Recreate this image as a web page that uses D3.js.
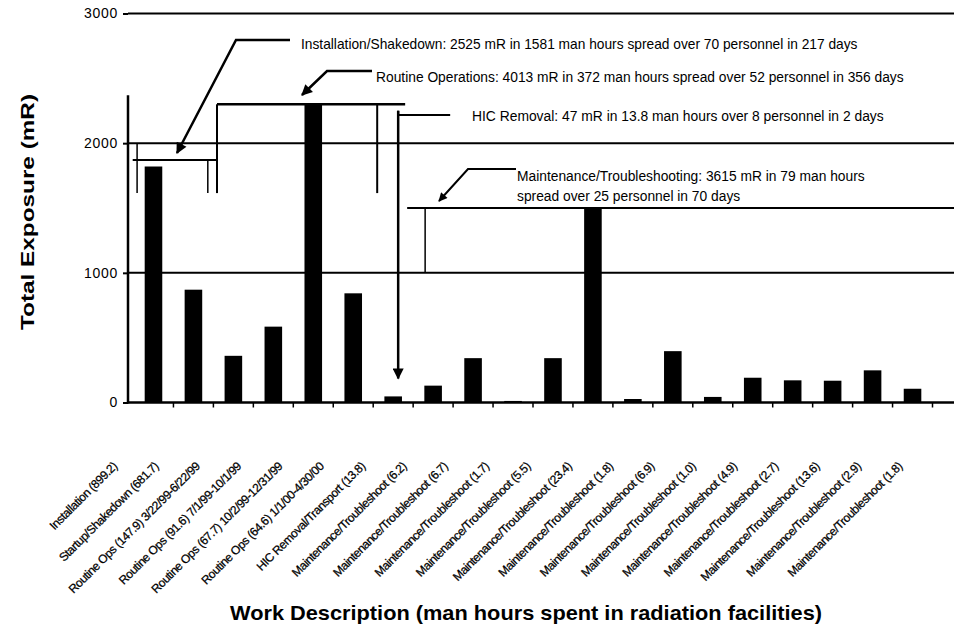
<!DOCTYPE html>
<html>
<head>
<meta charset="utf-8">
<script src="https://cdn.jsdelivr.net/npm/d3@7"></script>
<style>
  body { margin: 0; background: #fff; }
  svg { display: block; }
  text { font-family: "Liberation Sans", Arial, Helvetica, sans-serif; fill: #000; }
</style>
</head>
<body>
<svg id="chart" width="956" height="637"></svg>
<script>
// Work packages (man hours in parentheses)
const categories = [
  "Installation (899.2)",
  "Startup/Shakedown (681.7)",
  "Routine Ops (147.9) 3/22/99-6/22/99",
  "Routine Ops (91.6) 7/1/99-10/1/99",
  "Routine Ops (67.7) 10/2/99-12/31/99",
  "Routine Ops (64.6) 1/1/00-4/30/00",
  "HIC Removal/Transport (13.8)",
  "Maintenance/Troubleshoot (6.2)",
  "Maintenance/Troubleshoot (6.7)",
  "Maintenance/Troubleshoot (1.7)",
  "Maintenance/Troubleshoot (5.5)",
  "Maintenance/Troubleshoot (23.4)",
  "Maintenance/Troubleshoot (1.8)",
  "Maintenance/Troubleshoot (6.9)",
  "Maintenance/Troubleshoot (1.0)",
  "Maintenance/Troubleshoot (4.9)",
  "Maintenance/Troubleshoot (2.7)",
  "Maintenance/Troubleshoot (13.6)",
  "Maintenance/Troubleshoot (2.9)",
  "Maintenance/Troubleshoot (1.8)"
];

// Total exposure per work package, mR
const exposure = [1820, 870, 360, 585, 2300, 842, 47, 130, 342, 12, 342, 1500, 27, 396, 43, 191, 171, 168, 248, 106];

const yTicks = [0, 1000, 2000, 3000];

const yTitle = "Total Exposure (mR)";
const xTitle = "Work Description (man hours spent in radiation facilities)";

const noteInstall = "Installation/Shakedown: 2525 mR in 1581 man hours spread over 70 personnel in 217 days";
const noteRoutine = "Routine Operations: 4013 mR in 372 man hours spread over 52 personnel in 356 days";
const noteHic = "HIC Removal: 47 mR in 13.8 man hours over 8 personnel in 2 days";
const noteMaint = ["Maintenance/Troubleshooting: 3615 mR in 79 man hours", "spread over 25 personnel in 70 days"];

// ---- layout ----
const svg = d3.select("#chart");
const axisX = 128, rightEdge = 954;

const idx = d3.range(categories.length);
const x = d3.scaleBand().domain(idx).range([133.5, 932.5]).paddingInner(0.56).paddingOuter(0.28);
const y = d3.scaleLinear().domain([0, 3000]).range([402.5, 13.5]);
const labelPos = d3.scalePoint().domain(idx).range([118, 903]);

const step = x.step();
const edge = k => x.range()[0] + k * step;        // category boundary (fractional allowed)
const mid = i => x(i) + x.bandwidth() / 2;

const black = "#000";

// arrowhead
svg.append("defs").append("marker")
  .attr("id", "head").attr("viewBox", "0 0 10 10")
  .attr("refX", 9).attr("refY", 5)
  .attr("markerWidth", 5).attr("markerHeight", 4.4)
  .attr("markerUnits", "strokeWidth").attr("orient", "auto")
  .append("path").attr("d", "M0,0 L10,5 L0,10 Z").attr("fill", black);

// horizontal gridlines
svg.append("g").selectAll("line").data(yTicks.filter(d => d > 0)).join("line")
  .attr("x1", axisX).attr("x2", rightEdge)
  .attr("y1", d => y(d)).attr("y2", d => y(d))
  .attr("stroke", black).attr("stroke-width", 2);

// bars
svg.append("g").selectAll("rect").data(exposure).join("rect")
  .attr("x", (d, i) => x(i))
  .attr("width", x.bandwidth())
  .attr("y", d => y(d))
  .attr("height", d => y(0) - y(d))
  .attr("fill", black);

// y axis
const yAxis = svg.append("g").attr("transform", `translate(${axisX},0)`)
  .call(d3.axisLeft(y).tickValues(yTicks).tickFormat(d3.format("d")).tickSize(5).tickPadding(5));
yAxis.select(".domain").remove();
yAxis.selectAll(".tick line").attr("stroke", black).attr("stroke-width", 2);
yAxis.selectAll(".tick text").attr("font-size", 14).attr("font-family", null)
  .attr("letter-spacing", 0.7);
svg.append("line").attr("x1", axisX).attr("x2", axisX)
  .attr("y1", y(2370)).attr("y2", y(0) + 1)
  .attr("stroke", black).attr("stroke-width", 2.5);

// x axis baseline and ticks at category boundaries
svg.append("line").attr("x1", axisX - 1).attr("x2", rightEdge)
  .attr("y1", y(0)).attr("y2", y(0)).attr("stroke", black).attr("stroke-width", 2.5);
svg.append("g").selectAll("line").data(d3.range(1, categories.length + 1)).join("line")
  .attr("x1", k => edge(k)).attr("x2", k => edge(k))
  .attr("y1", y(0)).attr("y2", y(0) + 5)
  .attr("stroke", black).attr("stroke-width", 1.5);

// category labels
svg.append("g").selectAll("text").data(categories).join("text")
  .attr("transform", (d, i) => `translate(${labelPos(i)},467) rotate(-45)`)
  .attr("text-anchor", "end")
  .attr("font-size", 12)
  .attr("letter-spacing", -0.45)
  .attr("stroke", black).attr("stroke-width", 0.25)
  .text(d => d);

// axis titles
svg.append("text")
  .attr("transform", `translate(34,212) rotate(-90)`)
  .attr("text-anchor", "middle")
  .attr("font-size", 19).attr("font-weight", "bold")
  .attr("textLength", 236).attr("lengthAdjust", "spacingAndGlyphs")
  .text(yTitle);
svg.append("text")
  .attr("x", 526).attr("y", 620)
  .attr("text-anchor", "middle")
  .attr("font-size", 21).attr("font-weight", "bold")
  .attr("textLength", 592).attr("lengthAdjust", "spacingAndGlyphs")
  .text(xTitle);

// ---- group annotations ----
const ann = svg.append("g").attr("stroke", black).attr("fill", "none");
const seg = (pts, w, arrow) => {
  const p = ann.append("path").attr("d", d3.line()(pts)).attr("stroke-width", w);
  if (arrow) p.attr("marker-end", "url(#head)");
};

// Installation / shakedown bracket
const lvInstall = 1870, legLow = 1615;
seg([[edge(-0.02), y(lvInstall)], [edge(2.09), y(lvInstall)]], 2);
seg([[edge(0.09), y(2000)], [edge(0.09), y(legLow)]], 1.5);
seg([[edge(1.86), y(lvInstall)], [edge(1.86), y(legLow)]], 1.5);
seg([[290, 40], [236, 40], [177, 153]], 2.5, true);

// Routine operations bracket
const lvRoutine = 2300;
seg([[edge(2.09), y(lvRoutine)], [edge(6.8), y(lvRoutine)]], 2.5);
seg([[edge(2.09), y(lvRoutine)], [edge(2.09), y(legLow)]], 2);
seg([[edge(6.1), y(lvRoutine)], [edge(6.1), y(legLow)]], 2);
seg([[372, 71], [327, 71], [302, 95]], 2.5, true);

// HIC removal pointer
const hicX = mid(6) + 5;
seg([[hicX + 52, y(2217)], [hicX, y(2217)], [hicX, y(2250)]], 2);
seg([[hicX, y(2250)], [hicX, y(exposure[6]) - 18]], 2.5, true);

// Maintenance / troubleshooting bracket
const lvMaint = 1500;
seg([[edge(6.85), y(lvMaint)], [rightEdge, y(lvMaint)]], 2);
seg([[edge(7.3), y(lvMaint)], [edge(7.3), y(1000)]], 1.5);
seg([[516, 169], [468, 169], [439, 201]], 2, true);

// annotation text
const note = (t, px, py, fs) => svg.append("text")
  .attr("x", px).attr("y", py).attr("font-size", fs).text(t);
note(noteInstall, 301, 49, 13.75);
note(noteRoutine, 376, 82, 13.8);
note(noteHic, 472, 121, 13.85);
note(noteMaint[0], 517, 181, 13.8);
note(noteMaint[1], 517, 201, 13.8);
</script>
</body>
</html>
